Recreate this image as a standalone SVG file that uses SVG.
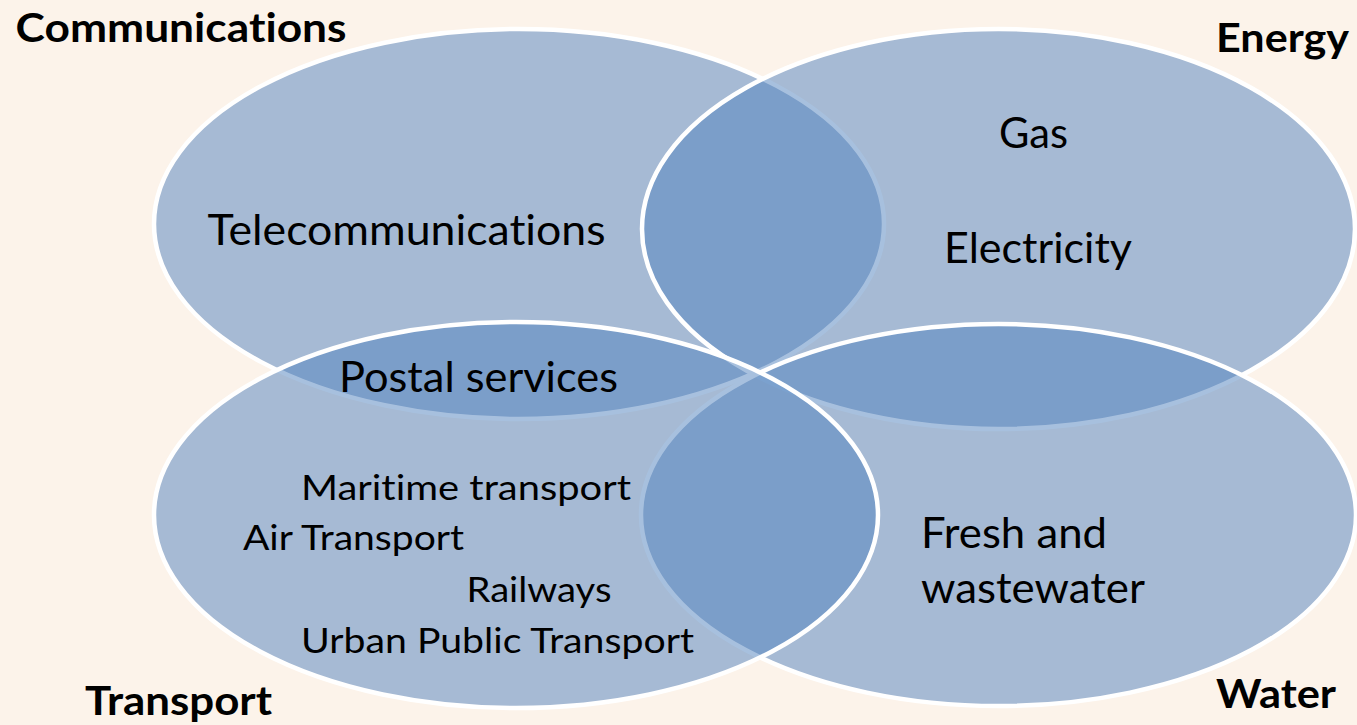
<svg xmlns="http://www.w3.org/2000/svg" width="1357" height="725" viewBox="0 0 1357 725">
<style>
.bg{fill:#FCF3EA}
.ell{fill:#4F81BD;fill-opacity:0.5;stroke:#FFFFFF;stroke-width:4.5}
text{font-family:Lato,"Open Sans","Liberation Sans",sans-serif;fill:#000;font-variant-ligatures:none;font-feature-settings:"liga" 0,"clig" 0}
.head{font-weight:bold;font-size:40px}
.big{font-size:42px}
.small{font-size:35px}
</style>
<rect class="bg" x="0" y="0" width="1357" height="725"/>
<g id="communications">
<ellipse class="ell" cx="519" cy="224" rx="365" ry="195"/>
<text class="head" x="15.6" y="41.5" textLength="331" lengthAdjust="spacingAndGlyphs">Communications</text>
<text class="big" x="207.6" y="245" textLength="398" lengthAdjust="spacingAndGlyphs">Telecommunications</text>
</g>
<g id="energy">
<ellipse class="ell" cx="998.5" cy="229" rx="356.5" ry="200"/>
<text class="head" x="1216" y="52" textLength="133" lengthAdjust="spacingAndGlyphs">Energy</text>
<text class="big" x="999" y="148" textLength="69" lengthAdjust="spacingAndGlyphs">Gas</text>
<text class="big" x="944" y="263" textLength="188" lengthAdjust="spacingAndGlyphs">Electricity</text>
</g>
<g id="water">
<ellipse class="ell" cx="998.5" cy="515" rx="357.5" ry="191"/>
<text class="head" x="1216" y="708" textLength="120" lengthAdjust="spacingAndGlyphs">Water</text>
<text class="big" x="921" y="548" textLength="186" lengthAdjust="spacingAndGlyphs">Fresh and</text>
<text class="big" x="921" y="603" textLength="224" lengthAdjust="spacingAndGlyphs">wastewater</text>
</g>
<g id="transport">
<ellipse class="ell" cx="516" cy="515" rx="362" ry="193"/>
<text class="head" x="85" y="715" textLength="187" lengthAdjust="spacingAndGlyphs">Transport</text>
<text class="big" x="339" y="392" textLength="279" lengthAdjust="spacingAndGlyphs">Postal services</text>
<text class="small" x="301" y="500" textLength="330" lengthAdjust="spacingAndGlyphs">Maritime transport</text>
<text class="small" x="243" y="550" textLength="221" lengthAdjust="spacingAndGlyphs">Air Transport</text>
<text class="small" x="466.5" y="602" textLength="145" lengthAdjust="spacingAndGlyphs">Railways</text>
<text class="small" x="301" y="653" textLength="393" lengthAdjust="spacingAndGlyphs">Urban Public Transport</text>
</g>
<g id="connectors"/>
</svg>
